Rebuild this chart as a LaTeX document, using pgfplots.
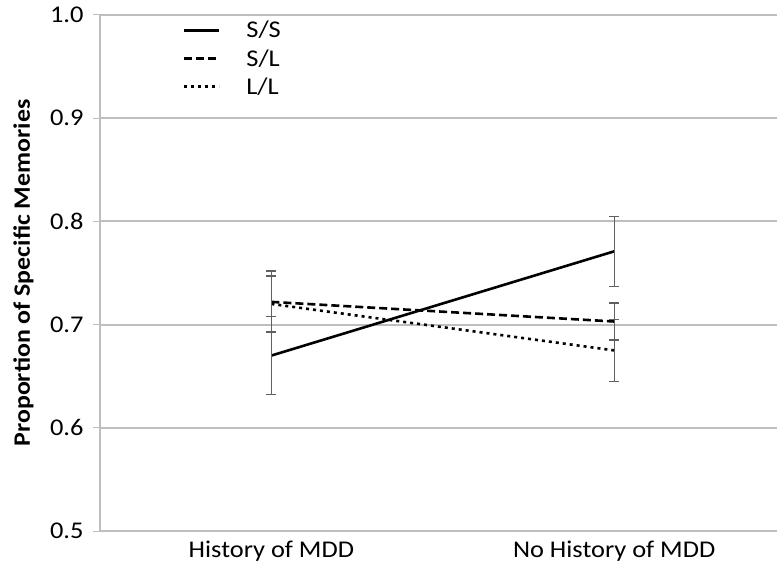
\documentclass[border=0pt]{standalone}
\usepackage{fontspec}
\setmainfont{Carlito}[FakeStretch=1.1]
\usepackage{pgfplots}
\pgfplotsset{compat=1.18}
\definecolor{gridc}{HTML}{BEBEBE}
\definecolor{errc}{HTML}{606060}
\begin{document}
\begin{tikzpicture}
\begin{axis}[
  scale only axis,
  width=677pt, height=516pt,
  xmin=0, xmax=1.975,
  ymin=0.5, ymax=1.0,
  ytick={0.5,0.6,0.7,0.8,0.9,1.0},
  yticklabel style={/pgf/number format/fixed,/pgf/number format/precision=1,/pgf/number format/fixed zerofill, xshift=-6pt},
  /pgf/number format/assume math mode=true,
  xtick={0.5,1.5},
  xticklabels={History of MDD, No History of MDD},
  major x tick style={draw=none},
  xticklabel style={yshift=1pt},
  ymajorgrids,
  grid style={gridc, line width=1.8pt},
  axis x line=bottom, axis y line=left,
  axis line style={gridc, line width=1.5pt, -},
  y tick style={gridc, line width=1pt},
  tick align=outside,
  major tick length=7pt,
  ticklabel style={font=\fontsize{24}{28}\selectfont, text=black},
  ylabel={\textbf{Proportion of Specific Memories}},
  ylabel style={font=\fontsize{23.5}{26}\selectfont, at={(axis description cs:-0.113,0.5)}, anchor=center},
  legend style={at={(0.122,0.992)}, anchor=north west, draw=none, fill=none,
    font=\fontsize{24}{28}\selectfont, row sep=6pt, column sep=24pt, inner sep=0pt,
    cells={anchor=west}},
  legend image code/.code={\draw[#1] (0pt,0pt) -- (35pt,0pt);},
  clip=false,
]
\addplot[black, line width=2.6pt, error bars/.cd, y dir=both, y explicit,
  error bar style={errc, line width=1.2pt, solid}, error mark options={errc, line width=1.2pt, mark size=5pt, rotate=90, solid}]
  coordinates {(0.5,0.670) +- (0,0.038) (1.5,0.771) +- (0,0.034)};
\addlegendentry{S/S}
\addplot[black, line width=2.6pt, dash pattern=on 8pt off 4pt, error bars/.cd, y dir=both, y explicit,
  error bar style={errc, line width=1.2pt, solid}, error mark options={errc, line width=1.2pt, mark size=5pt, rotate=90, solid}]
  coordinates {(0.5,0.722) +- (0,0.030) (1.5,0.703) +- (0,0.018)};
\addlegendentry{S/L}
\addplot[black, line width=2.6pt, dash pattern=on 3pt off 4pt, error bars/.cd, y dir=both, y explicit,
  error bar style={errc, line width=1.2pt, solid}, error mark options={errc, line width=1.2pt, mark size=5pt, rotate=90, solid}]
  coordinates {(0.5,0.720) +- (0,0.027) (1.5,0.675) +- (0,0.030)};
\addlegendentry{L/L}
\end{axis}
\pgfresetboundingbox
\path (-100pt,-32pt) rectangle (677pt,531pt);
\end{tikzpicture}
\end{document}
